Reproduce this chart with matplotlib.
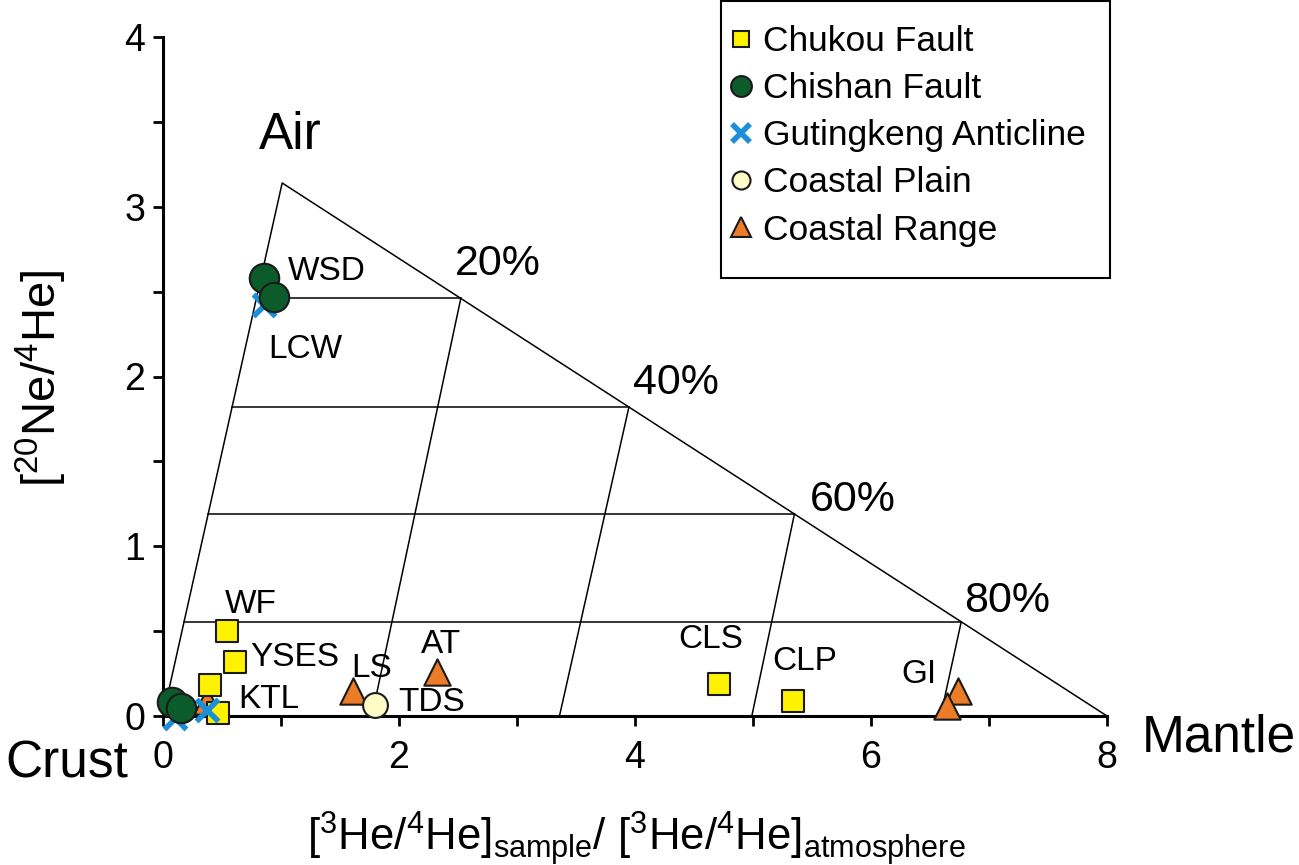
import matplotlib.pyplot as plt
from matplotlib.lines import Line2D
from matplotlib.patches import Rectangle

plt.rcParams['font.family'] = ['Liberation Sans', 'DejaVu Sans']

# end members of the mixing triangle
crust = (0.0, 0.0)
air = (1.01, 3.14)
mantle = (8.0, 0.0)

# constant air-fraction lines and the foot of the constant mantle-fraction lines
air_levels = [2.46, 1.82, 1.19, 0.555]
mantle_base = [1.77, 3.36, 4.99, 6.59]
mantle_pct = ['20%', '40%', '60%', '80%']

# samples
chukou_x = [0.54, 0.61, 0.40, 0.47, 4.71, 5.34]
chukou_y = [0.50, 0.32, 0.18, 0.02, 0.19, 0.09]
chishan_x = [0.86, 0.94, 0.08, 0.15]
chishan_y = [2.58, 2.47, 0.08, 0.05]
gutingkeng_x = [0.86, 0.37, 0.10]
gutingkeng_y = [2.42, 0.035, -0.01]
plain_x = [1.80]
plain_y = [0.065]
range_x = [0.37, 1.61, 2.32, 6.74, 6.64]
range_y = [0.09, 0.145, 0.26, 0.148, 0.06]

site_names = ['WSD', 'LCW', 'WF', 'YSES', 'KTL', 'LS', 'AT', 'TDS', 'CLS', 'CLP', 'GI']
site_text_at = [(1.39, 2.571), (1.21, 2.11), (0.745, 0.606), (1.12, 0.294), (0.90, 0.047),
                (1.77, 0.231), (2.36, 0.369), (2.28, 0.031), (4.64, 0.398), (5.44, 0.271),
                (6.405, 0.192)]
pct_text_at = [(2.835, 2.60), (4.35, 1.898), (5.85, 1.21), (7.15, 0.61)]

c_yellow = '#FFF200'
c_green = '#0B5B2B'
c_blue = '#1B8FD8'
c_pale = '#FFFCC8'
c_orange = '#EC7C28'
edge = '#1a1a1a'

fig = plt.figure(figsize=(12.99, 8.65), dpi=100)
ax = fig.add_axes([163 / 1299, 149 / 865, 944 / 1299, 679 / 865])

# triangle outline
ax.plot([crust[0], air[0], mantle[0]], [crust[1], air[1], mantle[1]],
        color='k', lw=1.1, zorder=1)
for y, xb in zip(air_levels, mantle_base):
    xl = air[0] * y / air[1]
    xr = mantle[0] - (mantle[0] - air[0]) * y / air[1]
    ax.plot([xl, xr], [y, y], color='k', lw=1.1, zorder=1)
    ax.plot([xr, xb], [y, 0], color='k', lw=1.1, zorder=1)

for (tx, ty), s in zip(pct_text_at, mantle_pct):
    ax.text(tx, ty, s, fontsize=31, ha='center', va='baseline')

ax.text(1.076, 3.341, 'Air', fontsize=37, ha='center', va='baseline')
ax.text(-0.818, -0.365, 'Crust', fontsize=37, ha='center', va='baseline')
ax.text(8.95, -0.212, 'Mantle', fontsize=37, ha='center', va='baseline')

ax.scatter(range_x, range_y, marker='^', s=360, c=c_orange, edgecolors=edge,
           linewidths=1.5, zorder=3, clip_on=False)
ax.scatter(chukou_x, chukou_y, marker='s', s=230, c=c_yellow, edgecolors=edge,
           linewidths=1.5, zorder=3, clip_on=False)
ax.scatter(plain_x, plain_y, marker='o', s=320, c=c_pale, edgecolors=edge,
           linewidths=1.5, zorder=3, clip_on=False)
ax.scatter(gutingkeng_x, gutingkeng_y, marker='x', s=250, c=c_blue,
           linewidths=4, zorder=4, clip_on=False)
ax.scatter(chishan_x, chishan_y, marker='o', s=450, c=c_green, edgecolors=edge,
           linewidths=1.5, zorder=5, clip_on=False)

for (tx, ty), name in zip(site_text_at, site_names):
    ax.text(tx, ty, name, fontsize=24, ha='center', va='baseline')

ax.set_xlim(0, 8)
ax.set_ylim(0, 4)
ax.spines['top'].set_visible(False)
ax.spines['right'].set_visible(False)
ax.spines['left'].set_linewidth(2.2)
ax.spines['bottom'].set_linewidth(2.2)
ax.set_xticks([0, 2, 4, 6, 8])
ax.set_xticks([1, 3, 5, 7], minor=True)
ax.set_yticks([0, 1, 2, 3, 4])
ax.set_yticks([0.5, 1.5, 2.5, 3.5], minor=True)
ax.tick_params(which='both', direction='out', length=7, width=2)
ax.tick_params(axis='x', pad=10)
ax.tick_params(axis='y', pad=6)
for lab in ax.get_xticklabels() + ax.get_yticklabels():
    lab.set_family(['Liberation Sans Narrow', 'Liberation Sans'])
    lab.set_fontsize(27)

ax.set_xlabel(r'[$^\mathregular{3}$He/$^\mathregular{4}$He]$_\mathregular{sample}$/ '
              r'[$^\mathregular{3}$He/$^\mathregular{4}$He]$_\mathregular{atmosphere}$',
              fontsize=31.5)
ax.xaxis.set_label_coords(0.501, -0.137)
ax.set_ylabel(r'[$^\mathregular{20}$Ne/$^\mathregular{4}$He]', fontsize=34)
ax.yaxis.set_label_coords(-0.10, 0.498)

# legend
fig.patches.append(Rectangle((721 / 1299, 1 - 278 / 865), 389 / 1299, 277 / 865,
                             transform=fig.transFigure, fill=False, lw=1.5,
                             edgecolor='k'))
handles = [
    Line2D([], [], ls='none', marker='s', ms=12, mfc=c_yellow, mec=edge, mew=1.5),
    Line2D([], [], ls='none', marker='o', ms=15, mfc=c_green, mec=edge, mew=1.5),
    Line2D([], [], ls='none', marker='x', ms=13, mec=c_blue, mew=4),
    Line2D([], [], ls='none', marker='o', ms=13, mfc=c_pale, mec=edge, mew=1.5),
    Line2D([], [], ls='none', marker='^', ms=15, mfc=c_orange, mec=edge, mew=1.5),
]
labels = ['Chukou Fault', 'Chishan Fault', 'Gutingkeng Anticline', 'Coastal Plain',
          'Coastal Range']
fig.legend(handles, labels, loc='upper left', bbox_to_anchor=(729 / 1299, 1 - 25 / 865),
           frameon=False, fontsize=25.5, borderpad=0, borderaxespad=0,
           handlelength=0.7, handletextpad=0.25, labelspacing=0.40)

fig.savefig('out.png', dpi=100)
